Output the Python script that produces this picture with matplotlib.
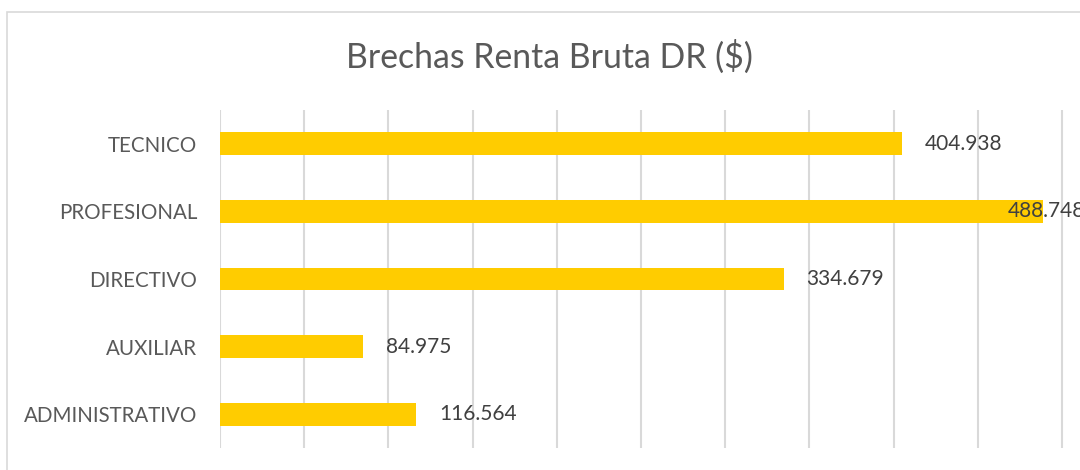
import matplotlib.pyplot as plt
import matplotlib.transforms as mtransforms
from matplotlib.patches import Rectangle

# datos (de abajo hacia arriba)
categorias = ["ADMINISTRATIVO", "AUXILIAR", "DIRECTIVO", "PROFESIONAL", "TECNICO"]
brechas = [116.564, 84.975, 334.679, 488.748, 404.938]
etiquetas = ["116.564", "84.975", "334.679", "488.748", "404.938"]

plt.rcParams['font.family'] = ['Lato', 'DejaVu Sans']

fig = plt.figure(figsize=(10.8, 4.7), dpi=100)
fig.patch.set_facecolor('white')

# borde exterior del grafico
fig.patches.append(Rectangle((7 / 1080, -0.2), 2, (470 - 12) / 470 + 0.2,
                             transform=fig.transFigure, fill=False,
                             edgecolor='#D9D9D9', linewidth=1.2))

ax = fig.add_axes([220 / 1080, 22 / 470, 1 - 220 / 1080, 338 / 470])
ypos = list(range(len(categorias)))
ax.barh(ypos, brechas, height=0.34, color='#FFCC00', zorder=3)

xmax = 510.7
ax.set_xlim(0, xmax)
ax.set_ylim(-0.5, len(categorias) - 0.5)
ax.set_xticks(range(0, 501, 50))
ax.set_xticklabels([])
ax.tick_params(axis='x', length=0)
ax.tick_params(axis='y', length=0, pad=16.5, labelsize=14.8, labelcolor='#595959')
ax.set_yticks(ypos)
ax.set_yticklabels(categorias)
ax.grid(axis='x', color='#D9D9D9', linewidth=1.5, zorder=0)
for s in ax.spines.values():
    s.set_visible(False)

blend = mtransforms.blended_transform_factory(ax.transAxes, ax.transData)
for y, v, t in zip(ypos, brechas, etiquetas):
    if v > 450:
        ax.annotate(t, xy=(1.0, y), xycoords=blend, xytext=(5, 0),
                    textcoords='offset pixels', ha='right', va='center',
                    fontsize=15, color='#404040', zorder=4)
    else:
        ax.annotate(t, xy=(v, y), xytext=(23, 0), textcoords='offset pixels',
                    ha='left', va='center', fontsize=15, color='#404040', zorder=4)

fig.text(549 / 1080, 1 - 57 / 470, "Brechas Renta Bruta DR ($)", ha='center',
         va='center', fontsize=24.3, color='#595959')

fig.savefig('out.png', dpi=100)
